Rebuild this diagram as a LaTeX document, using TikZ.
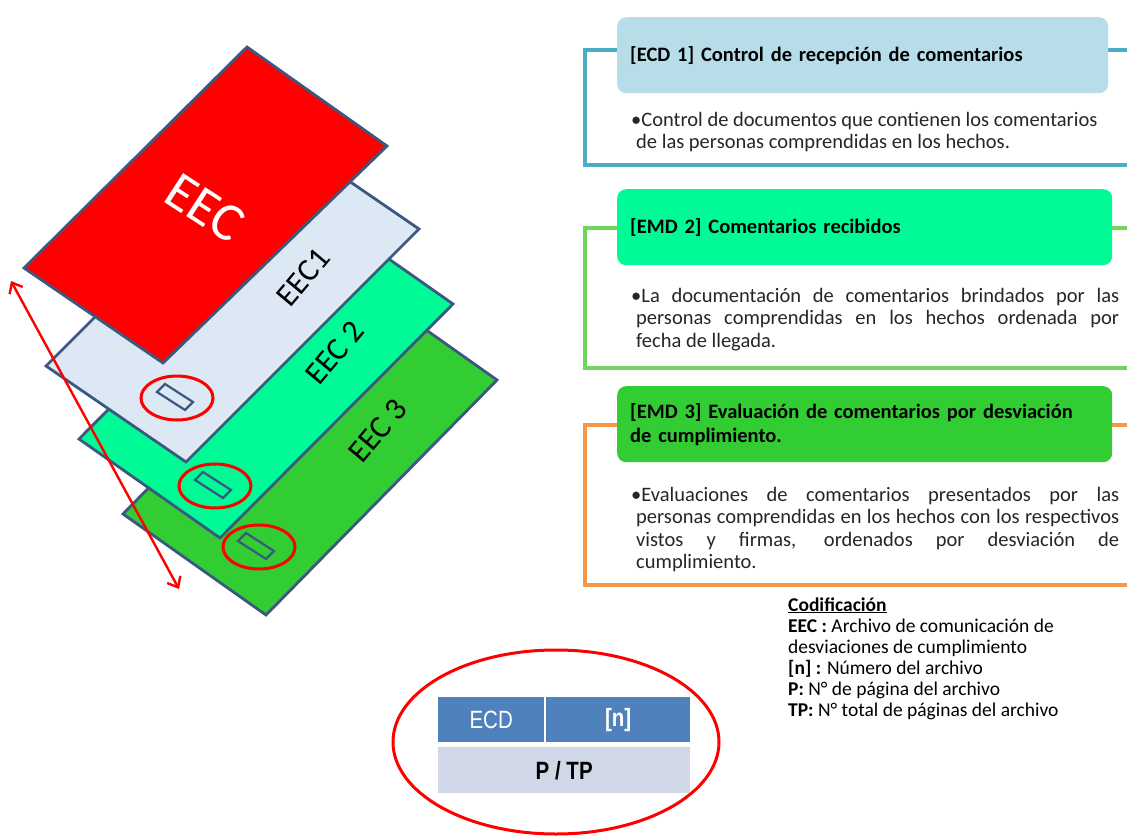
\documentclass[tikz,border=0pt]{standalone}
\usepackage{fontspec}
\setmainfont{Carlito}
\newfontfamily\tabfont[FakeStretch=0.82]{Liberation Sans}
\usetikzlibrary{arrows.meta}
\definecolor{sheetline}{RGB}{60,88,128}
\definecolor{eecred}{RGB}{255,0,0}
\definecolor{eecone}{RGB}{220,232,244}
\definecolor{eectwo}{RGB}{0,250,150}
\definecolor{eecthree}{RGB}{50,205,50}
\definecolor{frameA}{RGB}{75,172,198}
\definecolor{headA}{RGB}{183,221,232}
\definecolor{frameB}{RGB}{110,215,90}
\definecolor{headB}{RGB}{0,250,150}
\definecolor{frameC}{RGB}{247,150,70}
\definecolor{headC}{RGB}{50,205,50}
\definecolor{tblue}{RGB}{79,129,189}
\definecolor{tgray}{RGB}{208,216,232}
\definecolor{bodytext}{RGB}{38,38,38}
\tikzset{
  sheet/.style={draw=sheetline, line width=2.8pt, line join=miter},
  mark ellipse/.style={draw=eecred, line width=3pt},
  smallrect/.style={draw=sheetline, line width=2.2pt},
  frame/.style={line width=3.2pt},
  hdr/.style={rounded corners=9pt, anchor=north west, inner xsep=13pt, inner ysep=0pt,
     text width=469pt, align=left, minimum height=76pt, text=black,
     font=\fontsize{20.5}{24}\selectfont\bfseries},
  body/.style={anchor=north west, inner sep=0pt, text width=488pt, align=justify,
     text=bodytext, font=\fontsize{20.5}{22.5}\selectfont},
  codline/.style={anchor=base west, inner sep=0pt, text=black, font=\fontsize{19.5}{21}\selectfont},
  tcell/.style={anchor=north west, inner sep=0pt, font=\tabfont\fontsize{25}{25}\selectfont}
}
\begin{document}
\begin{tikzpicture}[x=1pt,y=-1pt]
\useasboundingbox (0,0) rectangle (1127,837);
\fill[white] (0,0) rectangle (1127,837);

% stacked sheets, bottom first
\filldraw[sheet, fill=eecthree] (123,514) -- (266,615) -- (497,380) -- (354,279) -- cycle;
\filldraw[sheet, fill=eectwo] (79,439) -- (220,538) -- (453,304) -- (312,205) -- cycle;
\filldraw[sheet, fill=eecone] (46,366) -- (186,462) -- (419,229) -- (279,133) -- cycle;
\filldraw[sheet, fill=eecred] (24,268) -- (163,363) -- (387,146) -- (247,47) -- cycle;

\node[text=white, font=\fontsize{54}{54}\selectfont, rotate=-33] (leec) at (205,208) {EEC};
\node[font=\fontsize{32}{32}\selectfont, rotate=50] (leec1) at (303,277) {EEC1};
\node[font=\fontsize{32}{32}\selectfont, rotate=50] (leec2) at (335,353) {EEC 2};
\node[font=\fontsize{32}{32}\selectfont, rotate=50] (leec3) at (378,431) {EEC 3};

% small labels and red marks
\foreach \cx/\cy in {175/397, 213/485, 256/546}{
  \draw[smallrect, shift={(\cx,\cy)}] (-18,-5) -- (-10,-13) -- (18,5) -- (10,13) -- cycle;
}
\draw[mark ellipse] (177,398) ellipse [x radius=36, y radius=22];
\draw[mark ellipse] (215,486) ellipse [x radius=36, y radius=22];
\draw[mark ellipse] (259,547) ellipse [x radius=36, y radius=22];

% double arrow
\coordinate (atop) at (11,281);
\coordinate (abot) at (179,589);
\draw[eecred, line width=2.4pt, {Straight Barb[length=9pt,width=15pt]}-{Straight Barb[length=9pt,width=15pt]}] (atop) -- (abot);

% panel 1
\draw[frame, frameA] (1127,50) -- (585,50) -- (585,165) -- (1127,165);
\node[hdr, fill=headA, text width=465pt] (h1) at (617,17) {[ECD 1] Control de recepción de comentarios};
\node[body] (b1) at (631,112) {\hangindent=5pt\hangafter=1 •Control de documentos que contienen los comentarios\newline de las personas comprendidas en los hechos.\par};

% panel 2
\draw[frame, frameB] (1127,228) -- (585,228) -- (585,368) -- (1127,368);
\node[hdr, fill=headB] (h2) at (617,189) {[EMD 2] Comentarios recibidos};
\node[body] (b2) at (631,288) {\hangindent=5pt\hangafter=1 •La documentación de comentarios brindados por las\linebreak personas comprendidas en los hechos ordenada por\linebreak fecha de llegada.\par};

% panel 3
\draw[frame, frameC] (1127,425) -- (585,425) -- (585,585) -- (1127,585);
\node[hdr, fill=headC] (h3) at (617,386) {[EMD 3] Evaluación de comentarios por desviación\\de cumplimiento.};
\node[body] (b3) at (631,487) {\hangindent=5pt\hangafter=1 •Evaluaciones de comentarios presentados por las\linebreak personas comprendidas en los hechos con los respectivos\linebreak vistos y firmas, ordenados por desviación de\linebreak cumplimiento.\par};

% codification legend
\node[codline] (c0) at (788,611) {\underline{\textbf{Codificación}}};
\node[codline] (c1) at (788,632) {\textbf{EEC :} Archivo de comunicación de};
\node[codline] (c2) at (788,653) {desviaciones de cumplimiento};
\node[codline] (c3) at (788,674) {\textbf{[n] :} Número del archivo};
\node[codline] (c4) at (788,695) {\textbf{P:} N° de página del archivo};
\node[codline] (c5) at (788,716) {\textbf{TP:} N° total de páginas del archivo};

% code table
\node[tcell, fill=tblue, text=white, minimum width=106pt, minimum height=45pt] (ecd) at (438,697) {ECD};
\node[tcell, fill=tblue, text=white, minimum width=144pt, minimum height=45pt, font=\tabfont\bfseries\fontsize{25}{25}\selectfont] (num) at (546,697) {[n]};
\node[tcell, fill=tgray, text=black, minimum width=252pt, minimum height=46pt, font=\tabfont\bfseries\fontsize{25}{25}\selectfont] (ptp) at (438,747) {P / TP};
\draw[eecred, line width=3pt] (556,742) ellipse [x radius=163, y radius=92];
\end{tikzpicture}
\end{document}
